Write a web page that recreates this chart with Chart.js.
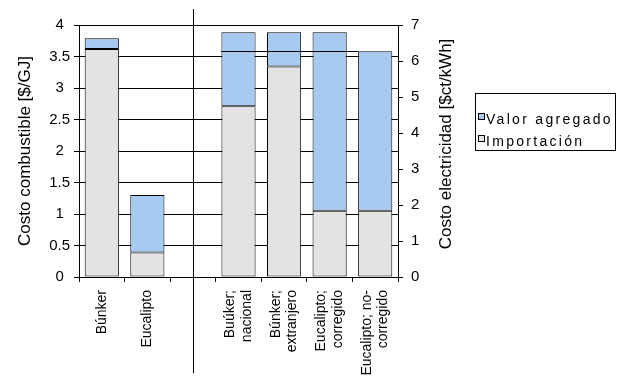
<!DOCTYPE html>
<html>
<head>
<meta charset="utf-8">
<script src="https://cdn.jsdelivr.net/npm/chart.js@4"></script>
<style>
html,body{margin:0;padding:0;background:#fff;}
#wrap{position:relative;width:623px;height:382px;overflow:hidden;}
</style>
</head>
<body>
<div id="wrap">
  <canvas id="c" width="623" height="382"></canvas>
</div>
<script>
// ---- data ----
const categories = ['Búnker', 'Eucalipto', '', ['Buúker;', 'nacional'], ['Búnker;', 'extranjero'], ['Eucalipto;', 'corregido'], ['Eucalipto; no-', 'corregido']];
// left axis: Costo combustible [$/GJ]
const importacionComb = [3.62, 0.39, null, null, null, null, null];
const valorComb       = [0.17, 0.91, null, null, null, null, null];
// right axis: Costo electricidad [$ct/kWh]
const importacionElec = [null, null, null, 4.74, 5.85, 1.84, 1.84];
const valorElec       = [null, null, null, 2.06, 0.95, 4.96, 4.43];
const legendOrder = ['Valor agregado', 'Importación'];
const leftTitle = 'Costo combustible [$/GJ]';
const rightTitle = 'Costo electricidad [$ct/kWh]';

const colValor = '#A6CAF0';
const colImport = '#E3E3E3';
const legendColors = {'Valor agregado': colValor, 'Importación': colImport};
const FONT = '"Liberation Sans", Arial, sans-serif';

Chart.defaults.font.family = FONT;
Chart.defaults.color = '#000';

const barStyle = {borderColor: '#000', borderWidth: 1, borderSkipped: false, stack: 's',
  categoryPercentage: 1.0, barPercentage: 0.75};

const overlay = {
  id: 'overlay',
  afterDatasetsDraw(chart) {
    const ctx = chart.ctx, ca = chart.chartArea;
    const xs = chart.scales.x;
    ctx.save();
    ctx.strokeStyle = '#000';
    ctx.lineWidth = 1;
    // separator between the two groups (through the empty category)
    const sx = Math.round(xs.getPixelForValue(2)) + 0.5;
    ctx.beginPath();
    ctx.moveTo(sx, ca.top - 16);
    ctx.lineTo(sx, chart.height - 9);
    ctx.stroke();
    // stray horizontal line seen over the right-hand bars
    const m = chart.getDatasetMeta(3);
    const a = m.data[3], b = m.data[6];
    if (a && b) {
      const yy = Math.round(b.y) + 0.5;
      ctx.beginPath();
      ctx.moveTo(a.x - a.width / 2, yy);
      ctx.lineTo(b.x - b.width / 2, yy);
      ctx.stroke();
    }
    ctx.restore();
  },
  afterDraw(chart) {
    const ctx = chart.ctx, ca = chart.chartArea;
    const s = chart.scales.y2;
    // right axis title, reading bottom-to-top like the reference
    ctx.save();
    ctx.translate(s.right - 12, (ca.top + ca.bottom) / 2 - 7);
    ctx.rotate(-Math.PI / 2);
    ctx.textAlign = 'center';
    ctx.textBaseline = 'middle';
    ctx.fillStyle = '#000';
    ctx.font = '17px ' + FONT;
    ctx.fillText(rightTitle, 0, 0);
    ctx.restore();

    // legend box to the right of the right axis
    const lx = s.right + 17, ly = ca.top + 68, lw = 141, lh = 58;
    ctx.save();
    ctx.fillStyle = '#fff';
    ctx.fillRect(lx, ly, lw, lh);
    ctx.strokeStyle = '#000';
    ctx.lineWidth = 1;
    ctx.strokeRect(lx + 0.5, ly + 0.5, lw - 1, lh - 1);
    ctx.font = '14px ' + FONT;
    ctx.textAlign = 'left';
    ctx.textBaseline = 'alphabetic';
    if ('letterSpacing' in ctx) ctx.letterSpacing = '2.3px';
    legendOrder.forEach((name, i) => {
      const by = ly + 20 + i * 22;
      ctx.fillStyle = legendColors[name];
      ctx.fillRect(lx + 3, by, 6, 6);
      ctx.strokeStyle = '#000';
      ctx.strokeRect(lx + 3.5, by + 0.5, 6, 6);
      ctx.fillStyle = '#000';
      ctx.fillText(name, lx + 11, ly + 31 + i * 22);
    });
    ctx.restore();
  }
};

const plainNum = (v) => String(Number(v.toFixed(2)));

new Chart(document.getElementById('c'), {
  type: 'bar',
  data: {
    labels: categories,
    datasets: [
      Object.assign({label: 'Importación', data: importacionComb, yAxisID: 'y', backgroundColor: colImport}, barStyle),
      Object.assign({label: 'Valor agregado', data: valorComb, yAxisID: 'y', backgroundColor: colValor}, barStyle),
      Object.assign({label: 'Importación', data: importacionElec, yAxisID: 'y2', backgroundColor: colImport}, barStyle),
      Object.assign({label: 'Valor agregado', data: valorElec, yAxisID: 'y2', backgroundColor: colValor}, barStyle)
    ]
  },
  options: {
    responsive: false,
    animation: false,
    locale: 'en-US',
    layout: {padding: {top: 25, right: 165, bottom: 0, left: 0}},
    plugins: {legend: {display: false}, tooltip: {enabled: false}},
    scales: {
      x: {
        stacked: true,
        offset: true,
        grid: {display: true, drawOnChartArea: false, drawTicks: true, tickLength: 5, color: '#000', offset: true},
        border: {display: true, color: '#000'},
        ticks: {
          autoSkip: false, maxRotation: 90, minRotation: 90, padding: 8, labelOffset: -8.4,
          font: (c) => ({family: FONT, size: 14, lineHeight: Array.isArray(categories[c.index]) ? 1.2 : 0.6}),
          callback: function (v, i) {
            const l = categories[i];
            return Array.isArray(l) ? l : ['', l];
          }
        },
        afterFit: (s) => { s.height = 105; }
      },
      y: {
        position: 'left', stacked: true, min: 0, max: 4,
        grid: {color: '#000', drawTicks: true, tickLength: 5},
        border: {display: true, color: '#000'},
        ticks: {stepSize: 0.5, font: {size: 15}, padding: 4, crossAlign: 'center', callback: plainNum},
        title: {display: true, text: leftTitle, font: {size: 17}, padding: {top: 15, bottom: 0}},
        afterFit: (s) => { s.width = 79; }
      },
      y2: {
        position: 'right', stacked: true, min: 0, max: 7,
        grid: {drawOnChartArea: false, color: '#000', drawTicks: true, tickLength: 5},
        border: {display: true, color: '#000'},
        ticks: {stepSize: 1, font: {size: 15}, padding: 8, callback: plainNum},
        afterFit: (s) => { s.width = 60; }
      }
    }
  },
  plugins: [overlay]
});
</script>
</body>
</html>
